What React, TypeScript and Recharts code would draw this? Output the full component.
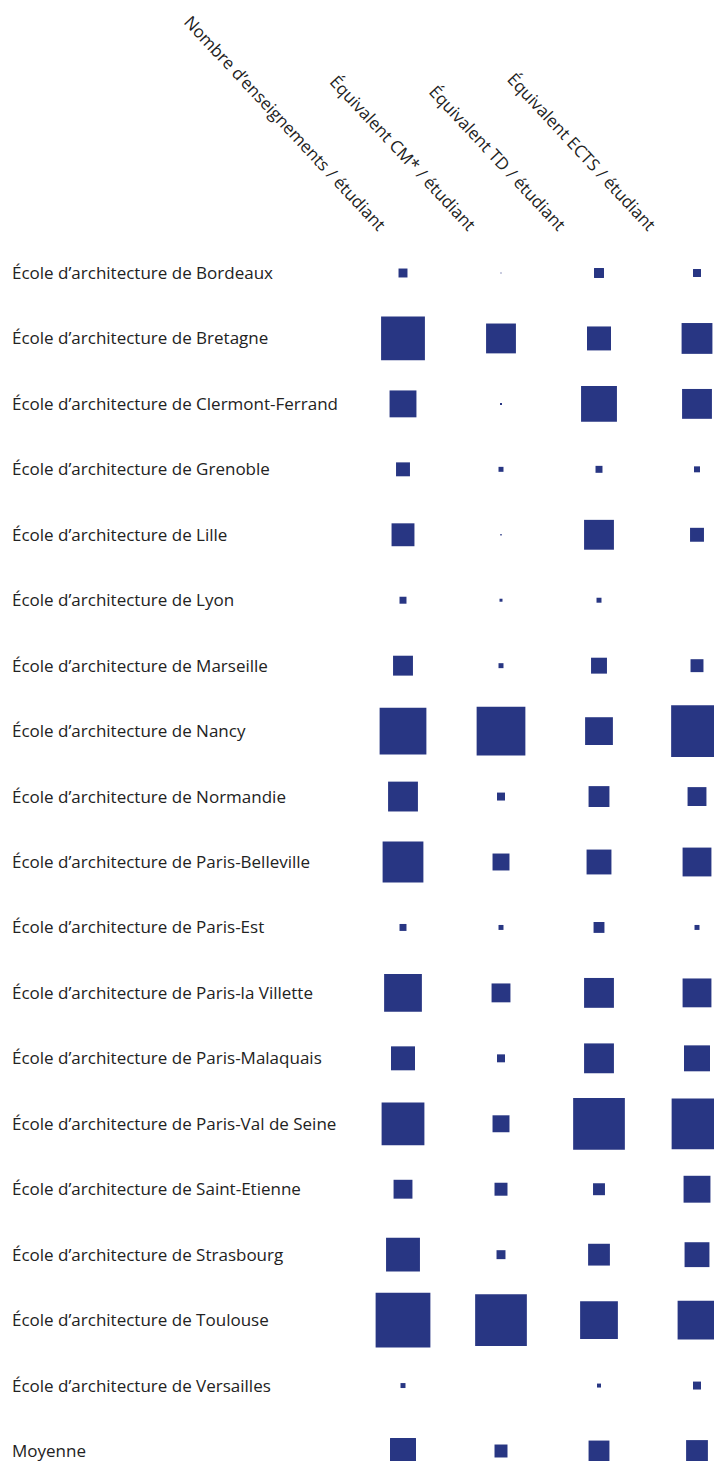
import { ScatterChart, Scatter, XAxis, YAxis, ZAxis } from 'recharts';

const schools = [
  'École d’architecture de Bordeaux',
  'École d’architecture de Bretagne',
  'École d’architecture de Clermont-Ferrand',
  'École d’architecture de Grenoble',
  'École d’architecture de Lille',
  'École d’architecture de Lyon',
  'École d’architecture de Marseille',
  'École d’architecture de Nancy',
  'École d’architecture de Normandie',
  'École d’architecture de Paris-Belleville',
  'École d’architecture de Paris-Est',
  'École d’architecture de Paris-la Villette',
  'École d’architecture de Paris-Malaquais',
  'École d’architecture de Paris-Val de Seine',
  'École d’architecture de Saint-Etienne',
  'École d’architecture de Strasbourg',
  'École d’architecture de Toulouse',
  'École d’architecture de Versailles',
  'Moyenne',
];

const headers = [
  'Nombre d’enseignements / étudiant',
  'Équivalent CM* / étudiant',
  'Équivalent TD / étudiant',
  'Équivalent ECTS / étudiant',
];

// values read from square areas (relative units)
const enseignements = [0.81, 19.4, 7.3, 1.96, 5.3, 0.49, 4.0, 22.1, 9.0, 16.8, 0.49, 14.4, 5.8, 18.5, 3.6, 11.6, 30.3, 0.25, 6.8];
const equivCM = [0.01, 9.0, 0.04, 0.25, 0.02, 0.09, 0.25, 24.0, 0.64, 2.9, 0.25, 3.6, 0.64, 2.9, 1.7, 0.81, 27.0, 0, 1.7];
const equivTD = [1.0, 5.8, 13.0, 0.49, 9.0, 0.25, 2.56, 7.8, 4.4, 6.25, 1.2, 9.0, 9.0, 27.0, 1.44, 4.8, 14.4, 0.16, 4.4];
const equivECTS = [0.64, 9.6, 9.0, 0.36, 1.96, 0, 1.69, 27.0, 3.6, 8.4, 0.25, 8.4, 6.8, 26.0, 7.3, 6.25, 15.2, 0.64, 4.8];

const columns = [enseignements, equivCM, equivTD, equivECTS];

const COLOR = '#283683';
const FONT = '"Open Sans", sans-serif';

function HeaderTick({ x, payload, index }: any) {
  const i = payload?.value ?? index;
  return (
    <text
      transform={`translate(${x - 25 - 8 * i}, 232) rotate(47)`}
      textAnchor="end"
      fontFamily={FONT}
      fontSize={17}
      fill="#222"
    >
      {headers[i]}
    </text>
  );
}

function RowTick({ y, payload }: any) {
  return (
    <text x={12} y={y} dy="0.35em" textAnchor="start" fontFamily={FONT} fontSize={17} fill="#222">
      {schools[payload.value]}
    </text>
  );
}

export default function App() {
  const series = columns.map((vals, ci) => vals.map((v, ri) => ({ x: ci, y: ri, v })));
  return (
    <div style={{ position: 'absolute', left: 0, top: 0, background: '#fff' }}>
      <ScatterChart width={714} height={1461} margin={{ top: 0, right: 17, bottom: 10, left: 0 }}>
        <XAxis
          type="number" dataKey="x" orientation="top" domain={[0, 3]} ticks={[0, 1, 2, 3]}
          height={273} axisLine={false} tickLine={false} tick={<HeaderTick />} interval={0}
        />
        <YAxis
          type="number" dataKey="y" domain={[0, 18]} reversed ticks={schools.map((_, i) => i)}
          width={403} axisLine={false} tickLine={false} tick={<RowTick />} interval={0}
        />
        <ZAxis type="number" dataKey="v" domain={[0, 30]} range={[0, 3000]} />
        {series.map((d, i) => (
          <Scatter key={i} data={d} fill={COLOR} shape="square" isAnimationActive={false} />
        ))}
      </ScatterChart>
    </div>
  );
}
